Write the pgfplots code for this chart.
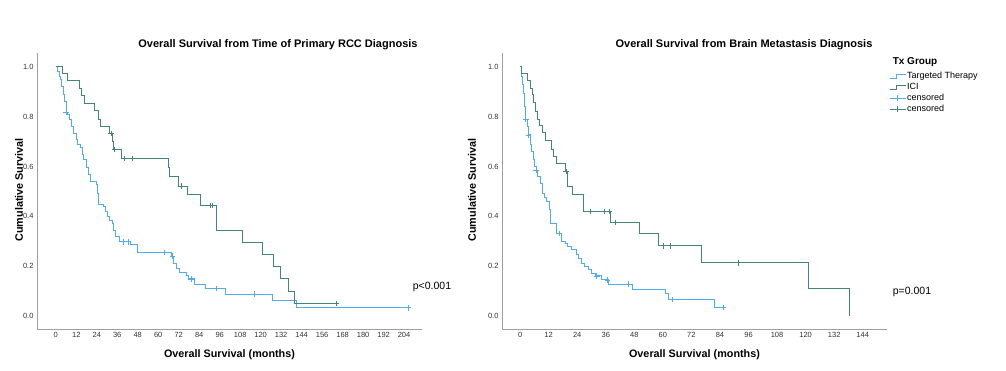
\documentclass[border=0pt]{standalone}
\usepackage{pgfplots}
\pgfplotsset{compat=1.18}
\usepackage{fontspec}
\setmainfont{Liberation Sans}
\definecolor{tealc}{RGB}{64,134,124}
\definecolor{bluec}{RGB}{76,174,240}
\pgfplotsset{kmaxis/.style={
  scale only axis, width=385pt, height=276pt,
  axis x line*=bottom, axis y line*=left,
  axis line style={draw=gray!75, line width=0.8pt},
  major tick length=0pt,
  ymin=-0.052, ymax=1.056,
  ytick={0,0.2,0.4,0.6,0.8,1.0},
  yticklabel style={/pgf/number format/.cd, fixed, fixed zerofill, precision=1},
  /pgf/number format/assume math mode=true,
  tick label style={font=\fontsize{7.5}{9}\selectfont, text=black!80},
  xlabel={Overall Survival (months)},
  ylabel={Cumulative Survival},
  label style={font=\bfseries\fontsize{10.8}{12}\selectfont},
  clip=false,
}}
\begin{document}
\begin{tikzpicture}
\path[use as bounding box] (0pt,0pt) rectangle (1006pt,371pt);
% ---------------- Left plot ----------------
\begin{axis}[kmaxis, at={(37pt,42pt)}, anchor=south west,
  xmin=-11, xmax=214.5, xtick={0,12,...,204},
  xlabel style={at={(axis description cs:0.5,-0.094)}, anchor=center},
  ylabel style={at={(axis description cs:-0.047,0.504)}, anchor=center},
]
\addplot[const plot, color=bluec, line width=1pt, forget plot] coordinates {
(0,1)(1,0.98)(2,0.96)(2.7,0.948)(3.5,0.92)(4.5,0.89)(5.2,0.86)(6.1,0.818)
(7,0.81)(8,0.79)(9,0.76)(10.6,0.731)(12,0.71)(13,0.69)(14.5,0.677)(15.5,0.65)
(16.5,0.627)(17.8,0.598)(19,0.57)(20.4,0.539)(23.9,0.529)(24.5,0.49)(25.3,0.446)
(28.2,0.440)(29,0.42)(30.2,0.399)(31.5,0.385)(33.1,0.372)(34,0.345)(35.1,0.319)
(37.1,0.298)(44,0.288)(47.8,0.255)(67.5,0.241)(69,0.212)(70.6,0.19)(72.4,0.175)
(76.7,0.161)(77.6,0.149)(81,0.128)(87.5,0.111)(99.2,0.088)(126.9,0.061)(141,0.033)(206.7,0.033)};
\addplot[only marks, mark=+, mark size=2.8pt, color=bluec, line width=0.8pt, forget plot] coordinates {
(6.1,0.818)(39.4,0.298)(42.5,0.298)(63.5,0.255)(68.4,0.241)(79.2,0.149)(94.3,0.111)(116.5,0.088)(206.7,0.033)};
\addplot[const plot, color=tealc, line width=1pt, forget plot] coordinates {
(0,1)(4.1,0.975)(6.7,0.944)(14.1,0.914)(14.9,0.885)(17.1,0.854)(22.7,0.825)(25.3,0.791)
(26,0.760)(31.6,0.733)(33.2,0.700)(34,0.669)(38.6,0.633)(65.9,0.598)(66.8,0.562)(72,0.522)
(77,0.486)(84.5,0.443)(94,0.345)(109.2,0.296)(120.8,0.249)(127.8,0.198)(131.8,0.149)
(136.3,0.100)(139.6,0.051)(164.5,0.051)};
\addplot[only marks, mark=+, mark size=2.8pt, color=tealc, line width=0.8pt, forget plot] coordinates {
(32.4,0.733)(34.5,0.669)(40.3,0.633)(45,0.633)(73.5,0.522)(90.6,0.443)(92,0.443)(164.5,0.051)};
\end{axis}
% ---------------- Right plot ----------------
\begin{axis}[kmaxis, at={(502pt,42pt)}, anchor=south west,
  xmin=-7.6, xmax=154.2, xtick={0,12,...,144},
  xlabel style={at={(axis description cs:0.5,-0.094)}, anchor=center},
  ylabel style={at={(axis description cs:-0.078,0.504)}, anchor=center},
  legend style={at={(axis description cs:1.005,0.9366)}, anchor=north west,
    draw=none, fill=none, font=\fontsize{9}{10}\selectfont,
    row sep=0pt, inner sep=0pt, nodes={inner sep=1pt, text height=7pt, text depth=2pt}},
  legend cell align=left,
]
\addplot[const plot, color=bluec, line width=1pt, forget plot] coordinates {
(0,1)(0.5,0.96)(1.0,0.93)(1.5,0.894)(2.0,0.84)(2.4,0.791)(3,0.76)(3.5,0.727)(4.2,0.69)
(4.9,0.660)(5.6,0.627)(6.2,0.60)(6.7,0.586)(7.5,0.56)(8.4,0.533)(9.5,0.493)(10.3,0.475)
(11.2,0.459)(12.3,0.426)(12.9,0.372)(15.5,0.332)(17.2,0.298)(18.9,0.292)(20,0.28)
(21.4,0.268)(23.5,0.248)(24.5,0.23)(25.9,0.212)(27,0.198)(28.7,0.185)(30,0.172)
(31.5,0.161)(34.3,0.145)(37.3,0.128)(47.3,0.107)(61.3,0.089)(62.3,0.067)(81.5,0.035)(85.4,0.035)};
\addplot[only marks, mark=+, mark size=2.8pt, color=bluec, line width=0.8pt, forget plot] coordinates {
(2.4,0.791)(3.5,0.727)(6.7,0.586)(16.5,0.332)(32.2,0.161)(36.7,0.145)(45.5,0.128)(64.1,0.067)(85.4,0.035)};
\addplot[const plot, color=tealc, line width=1pt, forget plot] coordinates {
(0,1)(0.8,0.975)(3.2,0.944)(4.2,0.914)(5.3,0.888)(5.6,0.859)(6.4,0.821)(7.4,0.79)
(8.0,0.764)(9.4,0.736)(10.8,0.704)(13.3,0.667)(14.0,0.640)(15.4,0.613)(19.0,0.58)
(19.9,0.522)(22.2,0.486)(26.7,0.419)(37.8,0.376)(50.1,0.332)(58.1,0.282)(76.1,0.214)
(121.3,0.110)(138.4,0.0)};
\addplot[only marks, mark=+, mark size=2.8pt, color=tealc, line width=0.8pt, forget plot] coordinates {
(19.3,0.58)(29.4,0.419)(35.4,0.419)(37.5,0.419)(39.9,0.376)(60.1,0.282)(63.3,0.282)(91.7,0.214)};
\addlegendimage{legend image code/.code={\draw[bluec, line width=1pt] (0pt,-2pt) -- (7pt,-2pt) -- (7pt,2pt) -- (16pt,2pt);}}
\addlegendentry{Targeted Therapy}
\addlegendimage{legend image code/.code={\draw[tealc, line width=1pt] (0pt,-2pt) -- (7pt,-2pt) -- (7pt,2pt) -- (16pt,2pt);}}
\addlegendentry{ICI}
\addlegendimage{legend image code/.code={\draw[bluec, line width=0.8pt] (0pt,0pt) -- (16pt,0pt) (8pt,-3pt) -- (8pt,3pt);}}
\addlegendentry{censored}
\addlegendimage{legend image code/.code={\draw[tealc, line width=0.8pt] (0pt,0pt) -- (16pt,0pt) (8pt,-3pt) -- (8pt,3pt);}}
\addlegendentry{censored}
\end{axis}
% ---------------- Texts ----------------
\node[font=\bfseries\fontsize{11}{13}\selectfont] at (278pt,326pt) {Overall Survival from Time of Primary RCC Diagnosis};
\node[font=\bfseries\fontsize{11}{13}\selectfont] at (744pt,326pt) {Overall Survival from Brain Metastasis Diagnosis};
\node[font=\bfseries\fontsize{10}{12}\selectfont] at (915pt,309pt) {Tx Group};
\node[font=\fontsize{10.5}{12}\selectfont] at (432pt,84pt) {p<0.001};
\node[font=\fontsize{10.5}{12}\selectfont] at (912pt,79pt) {p=0.001};
\end{tikzpicture}
\end{document}
